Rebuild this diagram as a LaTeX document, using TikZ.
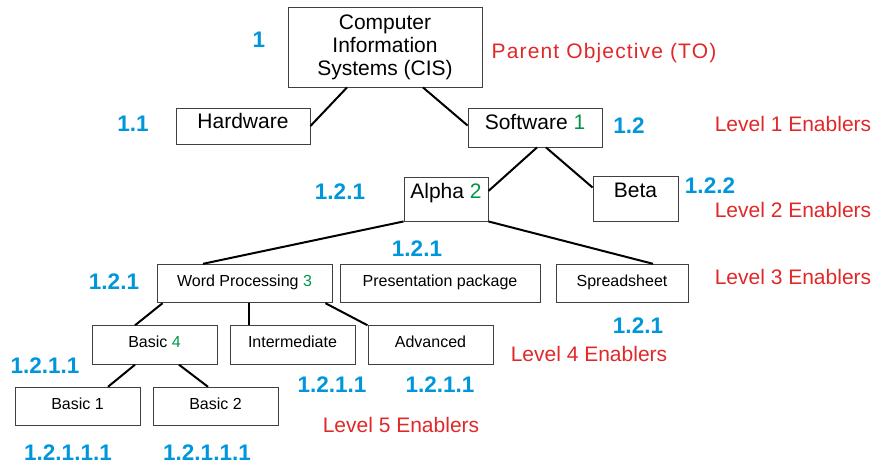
\documentclass[tikz,border=0pt]{standalone}
\usepackage{fontspec}
\setmainfont{Liberation Sans}
\usetikzlibrary{positioning}
\definecolor{numblue}{RGB}{0,150,220}
\definecolor{levelred}{RGB}{225,40,40}
\definecolor{stepgreen}{RGB}{0,150,70}
\tikzset{box/.style =
   {rectangle,
    draw=black!75,
    line width=0.9pt,
    inner sep=0pt,
    text centered}}
\tikzset{bigbox/.style =
   {box,
    font=\fontsize{21}{23}\selectfont,
    text height=15pt,
    text depth=11pt}}
\tikzset{smallbox/.style =
   {box,
    font=\fontsize{16}{18}\selectfont,
    minimum width=125pt,
    minimum height=38.5pt,
    text height=11.5pt,
    text depth=6.5pt}}
\tikzset{number/.style =
   {anchor=base,
    text=numblue,
    font=\bfseries\fontsize{22.5}{24}\selectfont}}
\tikzset{level/.style =
   {anchor=base,
    text=levelred,
    font=\fontsize{21}{23}\selectfont}}
\tikzset{link/.style = {draw, line width=2pt}}
\newcommand{\stepno}[1]{\textcolor{stepgreen}{#1}}
\begin{document}
\begin{tikzpicture}[x=1pt, y=-1pt]

    \useasboundingbox (0,0) rectangle (889,463);

    % tree boxes
    \node [box,
           font=\fontsize{21}{23}\selectfont,
           align=center,
           minimum width=194pt,
           minimum height=80pt] (cis) at (385,47) {Computer\\Information\\Systems (CIS)};

    \node [bigbox,
           minimum width=134pt,
           minimum height=36pt] (hardware) at (243,126) {Hardware};

    \node [bigbox,
           minimum width=134pt,
           minimum height=39pt] (software) at (535,127.5) {Software \stepno{1}};

    \node [bigbox,
           text depth=17pt,
           minimum width=84pt,
           minimum height=44pt] (alpha) at (446,199) {Alpha \stepno{2}};

    \node [bigbox,
           text depth=18pt,
           minimum width=85pt,
           minimum height=45pt] (beta) at (635.5,198.5) {Beta};

    \node [smallbox,
           minimum width=175pt] (wordproc) at (244.5,283.5) {Word Processing \stepno{3}};

    \node [smallbox,
           minimum width=200pt,
           right = 7.1pt of wordproc] (present) {Presentation package};

    \node [smallbox,
           minimum width=132pt,
           right = 15.1pt of present] (spread) {Spreadsheet};

    \node [smallbox] (basic) at (154.5,345) {Basic \stepno{4}};

    \node [smallbox,
           right = 12.1pt of basic] (inter) {Intermediate};

    \node [smallbox,
           right = 12.1pt of inter] (advanced) {Advanced};

    \node [smallbox] (basicone) at (77.5,406.5) {Basic 1};

    \node [smallbox,
           right = 12.1pt of basicone] (basictwo) {Basic 2};

    % connectors
    \draw [link] ([xshift=-38pt]cis.south) -- (hardware.east);
    \draw [link] ([xshift=38pt]cis.south) -- ([yshift=2pt]software.west);
    \draw [link] ([xshift=2pt]software.south) -- ([yshift=8pt]alpha.east);
    \draw [link] ([xshift=11pt]software.south) -- ([yshift=11pt]beta.west);
    \draw [link] (alpha.south west) -- ([xshift=-41.5pt]wordproc.north);
    \draw [link] (alpha.south east) -- ([xshift=31pt]spread.north);
    \draw [link] ([xshift=6pt]wordproc.south west) -- ([xshift=-19.5pt]basic.north);
    \draw [link] ([xshift=4.5pt]wordproc.south) -- ([xshift=4.5pt]wordproc.south |- inter.north);
    \draw [link] ([xshift=-7pt]wordproc.south east) -- (advanced.north west);
    \draw [link] ([xshift=-19.5pt]basic.south) -- ([xshift=30.5pt]basicone.north);
    \draw [link] ([xshift=24.5pt]basic.south) -- ([xshift=-7.5pt]basictwo.north);

    % numbering
    \node [number] (num1) at (259,47) {1};
    \node [number] (num11) at (133,131) {1.1};
    \node [number] (num12) at (629,133) {1.2};
    \node [number] (num121a) at (340,199) {1.2.1};
    \node [number] (num122) at (710,193) {1.2.2};
    \node [number] (num121b) at (417,256) {1.2.1};
    \node [number] (num121c) at (114,289) {1.2.1};
    \node [number] (num121d) at (638,333) {1.2.1};
    \node [number] (num1211a) at (45,373) {1.2.1.1};
    \node [number] (num1211b) at (332,392) {1.2.1.1};
    \node [number] (num1211c) at (440,392) {1.2.1.1};
    \node [number] (num12111a) at (68,460) {1.2.1.1.1};
    \node [number] (num12111b) at (207,460) {1.2.1.1.1};

    % levels
    \node [level,
           font=\fontsize{21}{23}\selectfont\addfontfeatures{LetterSpace=5.5}] (parent) at (604,58) {Parent Objective (TO)};
    \node [level] (levelone) at (793,131) {Level 1 Enablers};
    \node [level] (leveltwo) at (793,217) {Level 2 Enablers};
    \node [level] (levelthree) at (793,284) {Level 3 Enablers};
    \node [level] (levelfour) at (589,361) {Level 4 Enablers};
    \node [level] (levelfive) at (401,432) {Level 5 Enablers};

\end{tikzpicture}
\end{document}
